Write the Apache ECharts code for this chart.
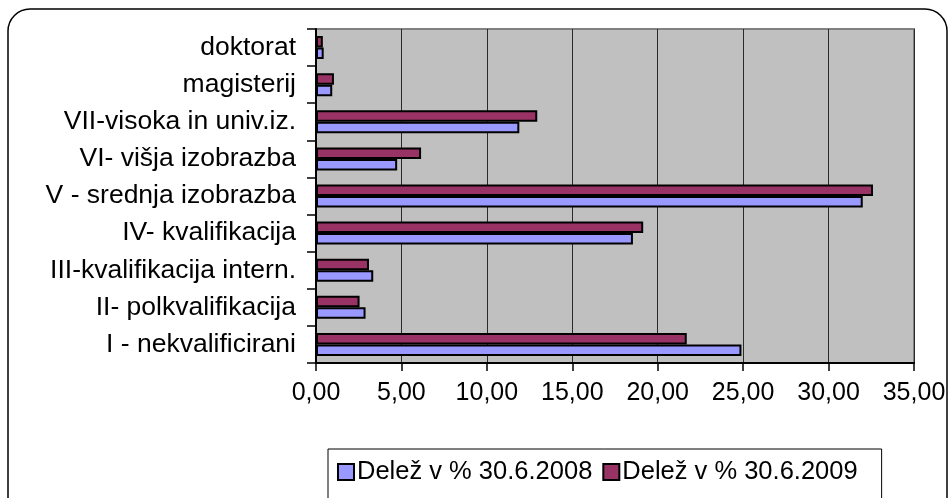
<!DOCTYPE html>
<html>
<head>
<meta charset="utf-8">
<script src="https://cdn.jsdelivr.net/npm/echarts@6/dist/echarts.min.js"></script>
<style>
html,body{margin:0;padding:0;background:#fff;}
#c{width:949px;height:498px;}
</style>
</head>
<body>
<div id="c"></div>
<script>
var categories = ['I - nekvalificirani', 'II- polkvalifikacija', 'III-kvalifikacija intern.', 'IV- kvalifikacija', 'V - srednja izobrazba', 'VI- višja izobrazba', 'VII-visoka in univ.iz.', 'magisterij', 'doktorat'];
var seriesNames = ['Delež v % 30.6.2008', 'Delež v % 30.6.2009'];
var values2008 = [24.9, 2.9, 3.35, 18.55, 32.0, 4.75, 11.9, 0.95, 0.45];
var values2009 = [21.7, 2.55, 3.1, 19.15, 32.6, 6.15, 12.95, 1.05, 0.4];
var xMin = 0, xMax = 35, xStep = 5;

var FONT = "'Liberation Sans', Arial, sans-serif";
var chart = echarts.init(document.getElementById('c'), null, {renderer: 'canvas'});
chart.setOption({
  animation: false,
  backgroundColor: '#fff',
  textStyle: {fontFamily: FONT},
  graphic: [{
    type: 'rect', z: 100,
    shape: {x: 8, y: 9, width: 939, height: 510, r: 22},
    style: {fill: 'none', stroke: '#000', lineWidth: 1.5}
  }],
  grid: {
    left: 316, right: 35, top: 29, bottom: 135,
    show: true, backgroundColor: '#C0C0C0', borderColor: '#808080', borderWidth: 2
  },
  legend: {
    data: seriesNames,
    left: 328, top: 449,
    orient: 'horizontal',
    icon: 'rect',
    itemWidth: 16, itemHeight: 16, itemGap: 10,
    padding: [10, 24, 30, 9],
    borderColor: '#000', borderWidth: 1,
    textStyle: {fontSize: 25.5, color: '#000', fontFamily: FONT, padding: [0, 0, 0, -2]}
  },
  xAxis: {
    type: 'value', min: xMin, max: xMax, interval: xStep,
    axisLine: {show: true, lineStyle: {color: '#000', width: 2}},
    axisTick: {show: true, length: 8, lineStyle: {color: '#000', width: 1.5}},
    axisLabel: {fontSize: 25, color: '#000', margin: 18, fontFamily: FONT,
      formatter: function (v) { return v.toFixed(2).replace('.', ','); }},
    splitLine: {show: true, lineStyle: {color: '#2a2a2a', width: 1}}
  },
  yAxis: {
    type: 'category', data: categories,
    axisLine: {show: true, lineStyle: {color: '#000', width: 2}},
    axisTick: {show: true, length: 9, lineStyle: {color: '#000', width: 1.5}},
    axisLabel: {fontSize: 26.5, color: '#000', margin: 20, fontFamily: FONT},
    splitLine: {show: false}
  },
  series: [{
    name: seriesNames[1], type: 'bar', data: values2009,
    barWidth: 11.5, barGap: '0%',
    itemStyle: {color: '#993366', borderColor: '#000', borderWidth: 2}
  }, {
    name: seriesNames[0], type: 'bar', data: values2008,
    barWidth: 11.5, barGap: '0%',
    itemStyle: {color: '#9999FF', borderColor: '#000', borderWidth: 2}
  }]
});
</script>
</body>
</html>
